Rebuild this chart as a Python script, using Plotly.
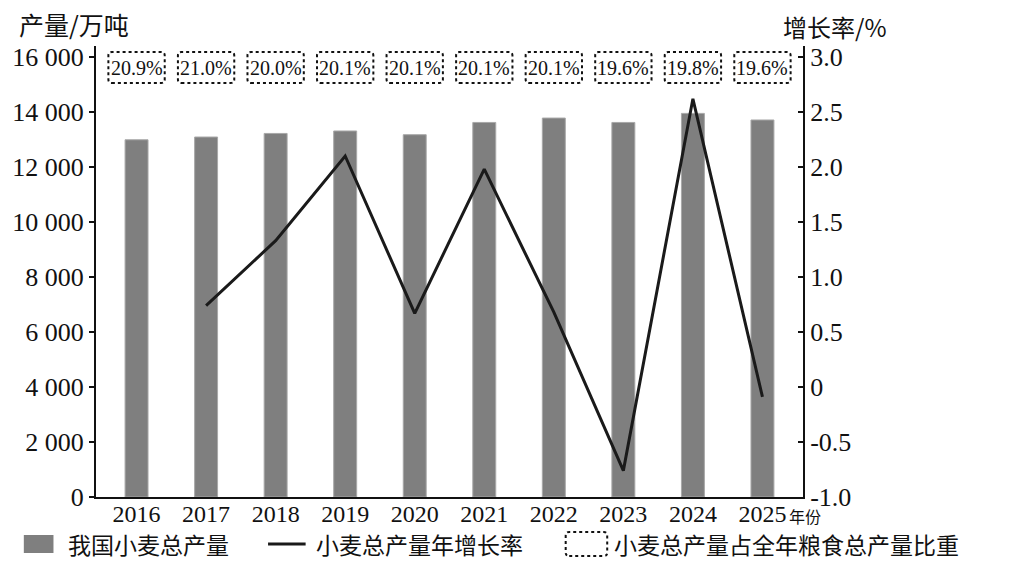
import plotly.graph_objects as go

years = ["2016", "2017", "2018", "2019", "2020", "2021", "2022", "2023", "2024", "2025"]
output = [12990, 13090, 13220, 13310, 13175, 13620, 13780, 13620, 13950, 13710]
growth = [None, 0.74, 1.33, 2.10, 0.67, 1.98, 0.68, -0.76, 2.62, -0.09]
share = ["20.9%", "21.0%", "20.0%", "20.1%", "20.1%", "20.1%", "20.1%", "19.6%", "19.8%", "19.6%"]

left_ticks = [0, 2000, 4000, 6000, 8000, 10000, 12000, 14000, 16000]
right_ticks = [-1.0, -0.5, 0, 0.5, 1.0, 1.5, 2.0, 2.5, 3.0]
right_labels = ["-1.0", "-0.5", "0", "0.5", "1.0", "1.5", "2.0", "2.5", "3.0"]

SERIF = "Liberation Serif, Times New Roman, serif"
CJK = "Noto Sans CJK SC, sans-serif"

W, H = 1015, 561
L, R, T, B = 88, 803, 46, 497


def px_x(p):
    return (p - L) / (R - L)


def px_y(p):
    return (B - p) / (B - T)


def rounded(x0, x1, y0, y1, rx, ry):
    return (f"M{x0+rx},{y0} L{x1-rx},{y0} Q{x1},{y0} {x1},{y0+ry} "
            f"L{x1},{y1-ry} Q{x1},{y1} {x1-rx},{y1} L{x0+rx},{y1} "
            f"Q{x0},{y1} {x0},{y1-ry} L{x0},{y0+ry} Q{x0},{y0} {x0+rx},{y0} Z")


xs = list(range(len(years)))

fig = go.Figure()
fig.add_trace(go.Bar(
    x=xs, y=output, name="我国小麦总产量",
    marker=dict(color="#7f7f7f", line=dict(color="#a8a8a8", width=1)),
    showlegend=False,
))
fig.add_trace(go.Scatter(
    x=xs, y=growth, name="小麦总产量年增长率", yaxis="y2", mode="lines",
    line=dict(color="#1a1a1a", width=3), connectgaps=False, showlegend=False,
))

shapes = []
annotations = []
# dashed share boxes above each bar
for i, s in enumerate(share):
    shapes.append(dict(
        type="path", xref="x", yref="paper",
        path=rounded(i - 0.405, i + 0.405, px_y(83), px_y(52), 0.05, 0.008),
        line=dict(color="#111111", width=2, dash="3px,3px"),
    ))
    annotations.append(dict(
        x=i, y=px_y(67.5), xref="x", yref="paper", text=s, showarrow=False,
        font=dict(family=SERIF, size=20, color="#111111"),
        xanchor="center", yanchor="middle",
    ))

# axis titles
annotations.append(dict(x=px_x(8), y=px_y(24), xref="paper", yref="paper",
                        text="产量/万吨", showarrow=False, xanchor="left", yanchor="middle",
                        font=dict(family=CJK, size=25, color="#111111")))
annotations.append(dict(x=px_x(781), y=px_y(27), xref="paper", yref="paper",
                        text="增长率/%", showarrow=False, xanchor="left", yanchor="middle",
                        font=dict(family=CJK, size=24, color="#111111")))
annotations.append(dict(x=px_x(787), y=px_y(516), xref="paper", yref="paper",
                        text="年份", showarrow=False, xanchor="left", yanchor="middle",
                        font=dict(family=CJK, size=16, color="#111111")))

# custom legend
ly = px_y(544)
shapes.append(dict(type="rect", xref="paper", yref="paper",
                   x0=px_x(15), x1=px_x(45), y0=px_y(553), y1=px_y(535),
                   fillcolor="#7f7f7f", line=dict(width=0)))
shapes.append(dict(type="line", xref="paper", yref="paper",
                   x0=px_x(262), x1=px_x(300), y0=ly, y1=ly,
                   line=dict(color="#1a1a1a", width=3)))
shapes.append(dict(type="path", xref="paper", yref="paper",
                   path=rounded(px_x(563), px_x(605), px_y(556), px_y(532), 0.005, 0.008),
                   line=dict(color="#111111", width=2, dash="3px,3px")))
for x0, txt in [(58, "我国小麦总产量"), (308, "小麦总产量年增长率"), (610, "小麦总产量占全年粮食总产量比重")]:
    annotations.append(dict(x=px_x(x0), y=ly, xref="paper", yref="paper", text=txt,
                            showarrow=False, xanchor="left", yanchor="middle",
                            font=dict(family=CJK, size=23, color="#111111")))

fig.update_layout(
    width=W, height=H,
    margin=dict(l=L, r=W - R, t=T, b=H - B, pad=0),
    plot_bgcolor="white", paper_bgcolor="white",
    bargap=0.67,
    xaxis=dict(
        range=[-0.583, 9.583], tickvals=xs, ticktext=years,
        showline=True, linecolor="#111111", linewidth=2, ticks="",
        showgrid=False, zeroline=False, ticklabelstandoff=-6,
        tickfont=dict(family=SERIF, size=24, color="#111111"),
    ),
    yaxis=dict(
        range=[0, 16400], tickvals=left_ticks,
        ticktext=[f"{v:,}".replace(",", " ") for v in left_ticks],
        showline=True, linecolor="#111111", linewidth=2,
        ticks="outside", ticklen=5, tickwidth=2, tickcolor="#111111",
        showgrid=False, zeroline=False,
        tickfont=dict(family=SERIF, size=26, color="#111111"),
    ),
    yaxis2=dict(
        overlaying="y", side="right", range=[-1.0, 3.1],
        tickvals=right_ticks, ticktext=right_labels,
        showline=True, linecolor="#111111", linewidth=2,
        ticks="inside", ticklen=5, tickwidth=2, tickcolor="#111111",
        showgrid=False, zeroline=False,
        tickfont=dict(family=SERIF, size=26, color="#111111"),
    ),
    shapes=shapes,
    annotations=annotations,
    showlegend=False,
)

# page body has a default 8px margin; drop it so the chart fills the window
fig.write_html("out.html", config={"displayModeBar": False},
               post_script="document.body.style.margin='0';")
